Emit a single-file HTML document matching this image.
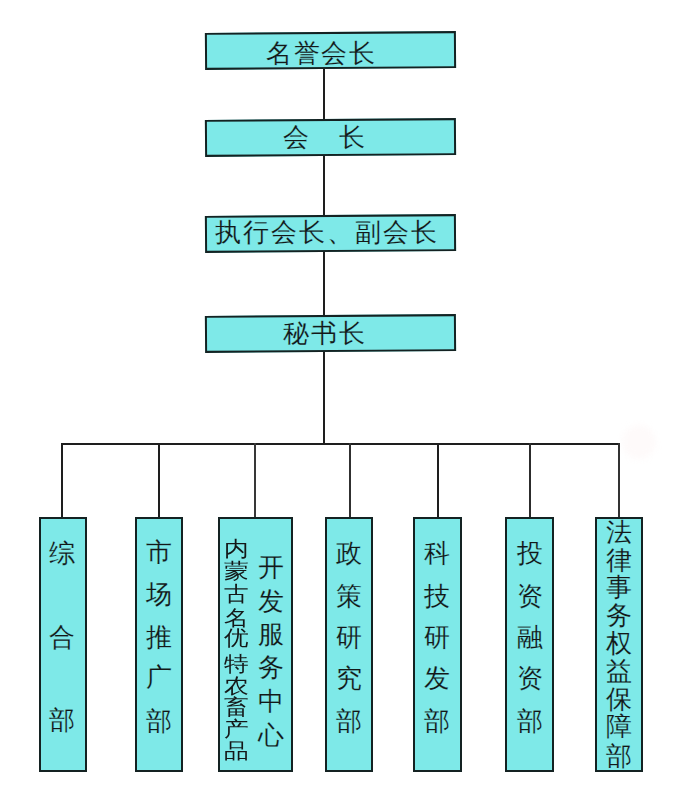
<!DOCTYPE html>
<html><head><meta charset="utf-8"><style>
html,body{margin:0;padding:0;background:#fff;width:677px;height:786px;overflow:hidden}
body{position:relative;font-family:"Liberation Sans",sans-serif}
.l{position:absolute;background:#1e1e1e}
.b{position:absolute;background:#7ee9e8;border-style:solid;border-color:#142222}
.c{position:absolute;color:#141818;white-space:nowrap;-webkit-text-stroke:0.15px #7ee9e8}
</style></head><body>
<div style="position:absolute;left:622px;top:425px;width:34px;height:34px;border-radius:50%;background:#fefafa;filter:blur(3px)"></div>
<div class="l" style="left:323px;top:69px;width:2.0px;height:376px"></div>
<div class="l" style="left:61px;top:443px;width:559.0px;height:2px"></div>
<div class="l" style="left:61.2px;top:443px;width:2.0px;height:75px"></div>
<div class="l" style="left:158px;top:443px;width:2.0px;height:75px"></div>
<div class="l" style="left:254.2px;top:443px;width:2.0px;height:75px;background:#383838"></div>
<div class="l" style="left:349.2px;top:443px;width:2.0px;height:75px;background:#303030"></div>
<div class="l" style="left:436.5px;top:443px;width:2.0px;height:75px"></div>
<div class="l" style="left:529.4px;top:443px;width:2.0px;height:75px;background:#2c2c2c"></div>
<div class="l" style="left:618px;top:443px;width:2.0px;height:75px;background:#333333"></div>
<div class="b" style="left:205px;top:32px;width:247.0px;height:32.9px;border-width:2px;transform:rotate(-0.4deg)"></div>
<div class="b" style="left:205px;top:118.8px;width:247.0px;height:32.6px;border-width:2px;transform:rotate(-0.4deg)"></div>
<div class="b" style="left:205px;top:215px;width:247.0px;height:32.5px;border-width:2px;transform:rotate(-0.4deg)"></div>
<div class="b" style="left:205px;top:315px;width:247.0px;height:32.6px;border-width:2px;transform:rotate(-0.4deg)"></div>
<div class="c" style="left:265.7px;top:40.0px;font-size:26px;line-height:26px;">名</div>
<div class="c" style="left:293.5px;top:40.0px;font-size:26px;line-height:26px;">誉</div>
<div class="c" style="left:321.3px;top:40.0px;font-size:26px;line-height:26px;">会</div>
<div class="c" style="left:349.1px;top:40.0px;font-size:26px;line-height:26px;">长</div>
<div class="c" style="left:283.2px;top:124.3px;font-size:26px;line-height:26px;">会</div>
<div class="c" style="left:338.6px;top:124.3px;font-size:26px;line-height:26px;">长</div>
<div class="c" style="left:215.2px;top:219.3px;font-size:26px;line-height:26px;">执</div>
<div class="c" style="left:243.2px;top:219.3px;font-size:26px;line-height:26px;">行</div>
<div class="c" style="left:271.2px;top:219.3px;font-size:26px;line-height:26px;">会</div>
<div class="c" style="left:299.2px;top:219.3px;font-size:26px;line-height:26px;">长</div>
<div class="c" style="left:327.2px;top:219.3px;font-size:26px;line-height:26px;">、</div>
<div class="c" style="left:355.2px;top:219.3px;font-size:26px;line-height:26px;">副</div>
<div class="c" style="left:383.2px;top:219.3px;font-size:26px;line-height:26px;">会</div>
<div class="c" style="left:411.2px;top:219.3px;font-size:26px;line-height:26px;">长</div>
<div class="c" style="left:283.0px;top:319.6px;font-size:26px;line-height:26px;">秘</div>
<div class="c" style="left:311.0px;top:319.6px;font-size:26px;line-height:26px;">书</div>
<div class="c" style="left:339.0px;top:319.6px;font-size:26px;line-height:26px;">长</div>
<div class="b" style="left:39px;top:516.6px;width:44.2px;height:251.4px;border-width:2px"></div>
<div class="b" style="left:134.5px;top:516.6px;width:44.6px;height:251.4px;border-width:2px"></div>
<div class="b" style="left:218px;top:516.6px;width:71.4px;height:251.4px;border-width:2px"></div>
<div class="b" style="left:325px;top:516.6px;width:44.4px;height:251.4px;border-width:2px"></div>
<div class="b" style="left:413.3px;top:516.6px;width:44.6px;height:251.4px;border-width:2px"></div>
<div class="b" style="left:505.2px;top:516.6px;width:44.8px;height:251.4px;border-width:2px"></div>
<div class="b" style="left:594.6px;top:516.6px;width:44.5px;height:251.4px;border-width:2px"></div>
<div class="c" style="left:49.0px;top:540.1px;font-size:26px;line-height:26px;">综</div>
<div class="c" style="left:49.0px;top:623.7px;font-size:26px;line-height:26px;">合</div>
<div class="c" style="left:49.0px;top:707.3px;font-size:26px;line-height:26px;">部</div>
<div class="c" style="left:145.8px;top:538.5px;font-size:26px;line-height:26px;">市</div>
<div class="c" style="left:145.8px;top:580.7px;font-size:26px;line-height:26px;">场</div>
<div class="c" style="left:145.8px;top:624.0px;font-size:26px;line-height:26px;">推</div>
<div class="c" style="left:145.8px;top:663.9px;font-size:26px;line-height:26px;">广</div>
<div class="c" style="left:145.8px;top:707.5px;font-size:26px;line-height:26px;">部</div>
<div class="c" style="left:335.8px;top:539.5px;font-size:26px;line-height:26px;">政</div>
<div class="c" style="left:335.8px;top:582.8px;font-size:26px;line-height:26px;">策</div>
<div class="c" style="left:335.8px;top:624.1px;font-size:26px;line-height:26px;">研</div>
<div class="c" style="left:335.8px;top:664.9px;font-size:26px;line-height:26px;">究</div>
<div class="c" style="left:335.8px;top:707.5px;font-size:26px;line-height:26px;">部</div>
<div class="c" style="left:424.0px;top:540.2px;font-size:26px;line-height:26px;">科</div>
<div class="c" style="left:424.0px;top:582.5px;font-size:26px;line-height:26px;">技</div>
<div class="c" style="left:424.0px;top:624.0px;font-size:26px;line-height:26px;">研</div>
<div class="c" style="left:424.0px;top:665.0px;font-size:26px;line-height:26px;">发</div>
<div class="c" style="left:424.0px;top:707.5px;font-size:26px;line-height:26px;">部</div>
<div class="c" style="left:516.5px;top:540.0px;font-size:26px;line-height:26px;">投</div>
<div class="c" style="left:516.5px;top:582.5px;font-size:26px;line-height:26px;">资</div>
<div class="c" style="left:516.5px;top:624.0px;font-size:26px;line-height:26px;">融</div>
<div class="c" style="left:516.5px;top:665.0px;font-size:26px;line-height:26px;">资</div>
<div class="c" style="left:516.5px;top:707.5px;font-size:26px;line-height:26px;">部</div>
<div class="c" style="left:606.0px;top:519.0px;font-size:26px;line-height:26px;">法</div>
<div class="c" style="left:606.0px;top:547.0px;font-size:26px;line-height:26px;">律</div>
<div class="c" style="left:606.0px;top:574.3px;font-size:26px;line-height:26px;">事</div>
<div class="c" style="left:606.0px;top:602.4px;font-size:26px;line-height:26px;">务</div>
<div class="c" style="left:606.0px;top:629.7px;font-size:26px;line-height:26px;">权</div>
<div class="c" style="left:606.0px;top:658.0px;font-size:26px;line-height:26px;">益</div>
<div class="c" style="left:606.0px;top:686.1px;font-size:26px;line-height:26px;">保</div>
<div class="c" style="left:606.0px;top:713.4px;font-size:26px;line-height:26px;">障</div>
<div class="c" style="left:606.0px;top:743.2px;font-size:26px;line-height:26px;">部</div>
<div class="c" style="left:257.8px;top:553.6px;font-size:26px;line-height:26px;">开</div>
<div class="c" style="left:257.8px;top:587.5px;font-size:26px;line-height:26px;">发</div>
<div class="c" style="left:257.8px;top:620.5px;font-size:26px;line-height:26px;">服</div>
<div class="c" style="left:257.8px;top:653.7px;font-size:26px;line-height:26px;">务</div>
<div class="c" style="left:257.8px;top:687.6px;font-size:26px;line-height:26px;">中</div>
<div class="c" style="left:257.8px;top:722.3px;font-size:26px;line-height:26px;">心</div>
<div class="c" style="left:224.1px;top:537.5px;font-size:25px;line-height:25px;transform:scaleY(0.85);transform-origin:0 0;-webkit-text-stroke-width:0px">内</div>
<div class="c" style="left:224.1px;top:559.7px;font-size:25px;line-height:25px;transform:scaleY(0.85);transform-origin:0 0;-webkit-text-stroke-width:0px">蒙</div>
<div class="c" style="left:224.1px;top:583.3px;font-size:25px;line-height:25px;transform:scaleY(0.85);transform-origin:0 0;-webkit-text-stroke-width:0px">古</div>
<div class="c" style="left:224.1px;top:606.6px;font-size:25px;line-height:25px;transform:scaleY(0.85);transform-origin:0 0;-webkit-text-stroke-width:0px">名</div>
<div class="c" style="left:224.1px;top:627.3px;font-size:25px;line-height:25px;transform:scaleY(0.85);transform-origin:0 0;-webkit-text-stroke-width:0px">优</div>
<div class="c" style="left:224.1px;top:653.0px;font-size:25px;line-height:25px;transform:scaleY(0.85);transform-origin:0 0;-webkit-text-stroke-width:0px">特</div>
<div class="c" style="left:224.1px;top:674.6px;font-size:25px;line-height:25px;transform:scaleY(0.85);transform-origin:0 0;-webkit-text-stroke-width:0px">农</div>
<div class="c" style="left:224.1px;top:696.0px;font-size:25px;line-height:25px;transform:scaleY(0.85);transform-origin:0 0;-webkit-text-stroke-width:0px">畜</div>
<div class="c" style="left:224.1px;top:718.4px;font-size:25px;line-height:25px;transform:scaleY(0.85);transform-origin:0 0;-webkit-text-stroke-width:0px">产</div>
<div class="c" style="left:224.1px;top:739.9px;font-size:25px;line-height:25px;transform:scaleY(0.85);transform-origin:0 0;-webkit-text-stroke-width:0px">品</div>
</body></html>
